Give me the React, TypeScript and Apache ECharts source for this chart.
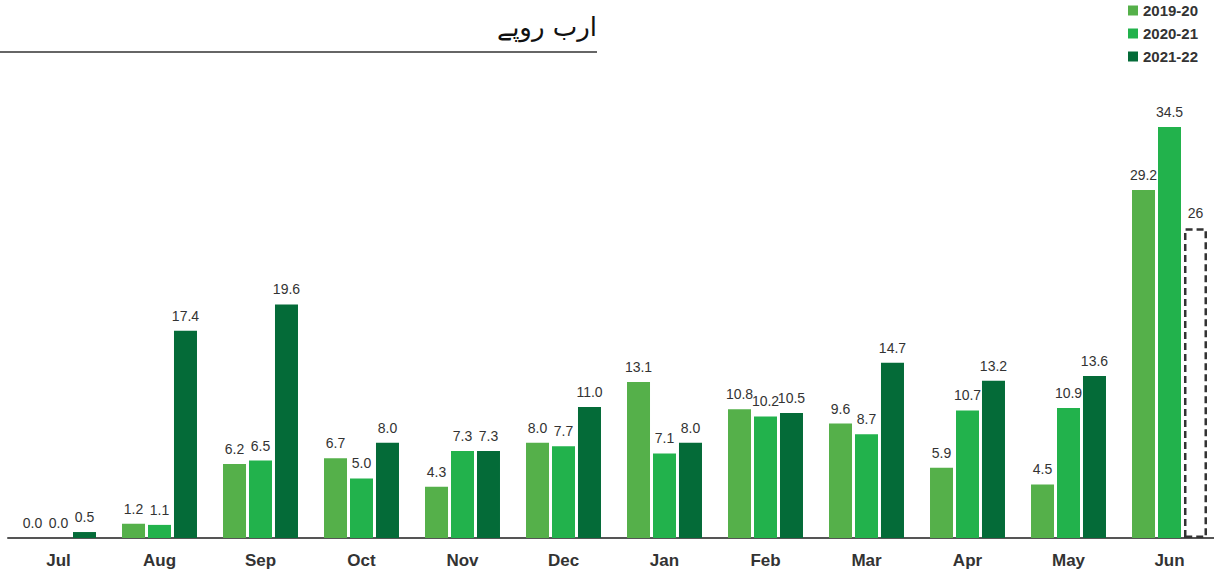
import React, { useEffect, useRef } from "react";
import * as echarts from "echarts";

const categories = ["Jul", "Aug", "Sep", "Oct", "Nov", "Dec", "Jan", "Feb", "Mar", "Apr", "May", "Jun"];
const seriesNames = ["2019-20", "2020-21", "2021-22"];
const values1920 = [0.0, 1.2, 6.2, 6.7, 4.3, 8.0, 13.1, 10.8, 9.6, 5.9, 4.5, 29.2];
const values2021 = [0.0, 1.1, 6.5, 5.0, 7.3, 7.7, 7.1, 10.2, 8.7, 10.7, 10.9, 34.5];
const values2122 = [0.5, 17.4, 19.6, 8.0, 7.3, 11.0, 8.0, 10.5, 14.7, 13.2, 13.6];
const target2122Jun = 26;
const colors = ["#55B04A", "#22B24C", "#046B38"];
const unitTitle = "ارب روپے";

export default function App() {
  const ref = useRef<HTMLDivElement>(null);
  useEffect(() => {
    if (!ref.current) return;
    const chart = echarts.init(ref.current, null, { renderer: "svg" });
    const labelCommon = {
      show: true,
      position: "top" as const,
      distance: 8,
      color: "#333",
      fontSize: 14,
      fontFamily: "Liberation Sans, Arial, sans-serif",
      formatter: (p: any) => (typeof p.value === "number" ? p.value.toFixed(1) : p.value),
    };
    const data2122: any[] = values2122.map((v) => v);
    data2122.push({
      value: target2122Jun,
      itemStyle: {
        color: "#ffffff",
        borderColor: "#333",
        borderWidth: 2.5,
        borderType: [7, 4],
      },
      label: { formatter: String(target2122Jun) },
    });
    chart.setOption({
      animation: false,
      legend: {
        orient: "vertical",
        left: 1123,
        top: -2,
        icon: "rect",
        itemWidth: 10,
        itemHeight: 10,
        itemGap: 8,
        data: seriesNames,
        textStyle: {
          fontSize: 15,
          fontWeight: "bold",
          color: "#333",
          fontFamily: "Liberation Sans, Arial, sans-serif",
        },
      },
      grid: { left: 8, right: 0, top: 109, bottom: 37 },
      xAxis: {
        type: "category",
        data: categories,
        axisLine: { lineStyle: { color: "#555", width: 2 } },
        axisTick: { show: false },
        axisLabel: {
          margin: 14,
          fontSize: 17,
          fontWeight: "bold",
          color: "#333",
          fontFamily: "Liberation Sans, Arial, sans-serif",
        },
      },
      yAxis: { type: "value", min: 0, max: 36, show: false, splitLine: { show: false } },
      series: [
        {
          name: seriesNames[0],
          type: "bar",
          data: values1920,
          barWidth: 23,
          barGap: "13%",
          itemStyle: { color: colors[0] },
          label: labelCommon,
        },
        {
          name: seriesNames[1],
          type: "bar",
          data: values2021,
          barWidth: 23,
          barGap: "13%",
          itemStyle: { color: colors[1] },
          label: labelCommon,
        },
        {
          name: seriesNames[2],
          type: "bar",
          data: data2122,
          barWidth: 23,
          barGap: "13%",
          itemStyle: { color: colors[2] },
          label: labelCommon,
        },
      ],
      graphic: [
        {
          type: "text",
          right: 1220 - 597,
          top: 14,
          style: {
            text: unitTitle,
            font: "26px 'DejaVu Sans', sans-serif",
            fill: "#111",
          },
        },
        {
          type: "line",
          shape: { x1: 0, y1: 52, x2: 597, y2: 52 },
          style: { stroke: "#666", lineWidth: 2 },
        },
      ],
    });
    return () => chart.dispose();
  }, []);
  return (
    <div style={{ position: "absolute", left: 0, top: 0, width: 1214, height: 575, overflow: "hidden" }}>
      <div ref={ref} style={{ width: 1220, height: 575 }} />
    </div>
  );
}
